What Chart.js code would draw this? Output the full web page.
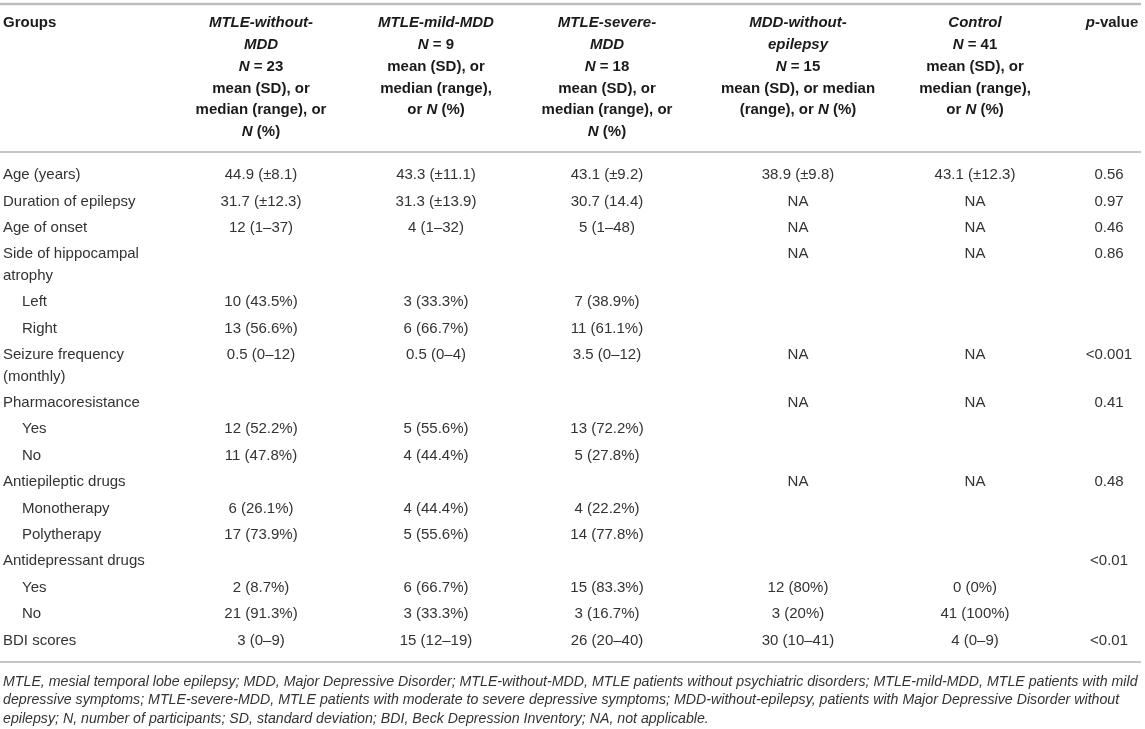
<!DOCTYPE html>
<html>
<head>
<meta charset="utf-8">
<script src="https://cdn.jsdelivr.net/npm/chart.js@4.4.0/dist/chart.umd.min.js"></script>
<style>
  html, body { margin: 0; padding: 0; background: #fff; }
  #wrap { width: 1145px; height: 729px; position: relative; }
</style>
</head>
<body>
<div id="wrap"><canvas id="tableChart"></canvas></div>
<script>
// ---- table content ----
const groupTitle = [
  ['MTLE-without-', 'MDD'],
  ['MTLE-mild-MDD'],
  ['MTLE-severe-', 'MDD'],
  ['MDD-without-', 'epilepsy'],
  ['Control']
];
const groupN = [23, 9, 18, 15, 41];
const statNote = [
  ['mean (SD), or', 'median (range), or', '*N* (%)'],
  ['mean (SD), or', 'median (range),', 'or *N* (%)'],
  ['mean (SD), or', 'median (range), or', '*N* (%)'],
  ['mean (SD), or median', '(range), or *N* (%)'],
  ['mean (SD), or', 'median (range),', 'or *N* (%)']
];

const rowLabels = [
  'Age (years)', 'Duration of epilepsy', 'Age of onset', 'Side of hippocampal\natrophy',
  'Left', 'Right', 'Seizure frequency\n(monthly)', 'Pharmacoresistance', 'Yes', 'No',
  'Antiepileptic drugs', 'Monotherapy', 'Polytherapy', 'Antidepressant drugs', 'Yes', 'No',
  'BDI scores'
];
const rowIndent = [0, 0, 0, 0, 1, 1, 0, 0, 1, 1, 0, 1, 1, 0, 1, 1, 0];

const withoutMDD = ['44.9 (±8.1)', '31.7 (±12.3)', '12 (1–37)', '', '10 (43.5%)', '13 (56.6%)', '0.5 (0–12)', '',
  '12 (52.2%)', '11 (47.8%)', '', '6 (26.1%)', '17 (73.9%)', '', '2 (8.7%)', '21 (91.3%)', '3 (0–9)'];
const mildMDD = ['43.3 (±11.1)', '31.3 (±13.9)', '4 (1–32)', '', '3 (33.3%)', '6 (66.7%)', '0.5 (0–4)', '',
  '5 (55.6%)', '4 (44.4%)', '', '4 (44.4%)', '5 (55.6%)', '', '6 (66.7%)', '3 (33.3%)', '15 (12–19)'];
const severeMDD = ['43.1 (±9.2)', '30.7 (14.4)', '5 (1–48)', '', '7 (38.9%)', '11 (61.1%)', '3.5 (0–12)', '',
  '13 (72.2%)', '5 (27.8%)', '', '4 (22.2%)', '14 (77.8%)', '', '15 (83.3%)', '3 (16.7%)', '26 (20–40)'];
const mddNoEpilepsy = ['38.9 (±9.8)', 'NA', 'NA', 'NA', '', '', 'NA', 'NA',
  '', '', 'NA', '', '', '', '12 (80%)', '3 (20%)', '30 (10–41)'];
const control = ['43.1 (±12.3)', 'NA', 'NA', 'NA', '', '', 'NA', 'NA',
  '', '', 'NA', '', '', '', '0 (0%)', '41 (100%)', '4 (0–9)'];
const pValues = ['0.56', '0.97', '0.46', '0.86', '', '', '<0.001', '0.41',
  '', '', '0.48', '', '', '<0.01', '', '', '<0.01'];

const footnote = [
  'MTLE, mesial temporal lobe epilepsy; MDD, Major Depressive Disorder; MTLE-without-MDD, MTLE patients without psychiatric disorders; MTLE-mild-MDD, MTLE patients with mild',
  'depressive symptoms; MTLE-severe-MDD, MTLE patients with moderate to severe depressive symptoms; MDD-without-epilepsy, patients with Major Depressive Disorder without',
  'epilepsy; N, number of participants; SD, standard deviation; BDI, Beck Depression Inventory; NA, not applicable.'
];

// ---- layout ----
const FONT = '"Liberation Sans", Arial, Helvetica, sans-serif';
const colX = [3, 261, 436, 607, 798, 975, 1109];
const INDENT = 19;
const HEAD_TOP = 23, HEAD_PITCH = 21.8, HEAD_RULE = 152, TOP_RULE = 4;
const BODY_TOP = 175, ROW_PITCH = 26.4, LINE_PITCH = 21.5;
const BOTTOM_RULE = 662, NOTE_TOP = 682, NOTE_PITCH = 18.3, NOTE_WIDTH = 1135;
const TABLE_RIGHT = 1141;

const rowY = [];
let yy = BODY_TOP;
rowLabels.forEach(label => {
  rowY.push(yy);
  yy += ROW_PITCH + (label.split('\n').length - 1) * LINE_PITCH;
});

const columns = [withoutMDD, mildMDD, severeMDD, mddNoEpilepsy, control, pValues];

const headerCells = [{ x: colX[0], y: HEAD_TOP, lines: ['Groups'], align: 'left' }];
groupTitle.forEach((t, i) => {
  const lines = t.map(s => '*' + s + '*').concat(['*N* = ' + groupN[i]], statNote[i]);
  headerCells.push({ x: colX[i + 1], y: HEAD_TOP, lines: lines, align: 'center' });
});
headerCells.push({ x: colX[6] + 3, y: HEAD_TOP, lines: ['*p*-value'], align: 'center' });

const bodyCells = [];
rowLabels.forEach((label, r) => {
  bodyCells.push({ x: colX[0] + (rowIndent[r] ? INDENT : 0), y: rowY[r], lines: label.split('\n'), align: 'left' });
  columns.forEach((col, c) => {
    if (col[r]) bodyCells.push({ x: colX[c + 1], y: rowY[r], lines: [col[r]], align: 'center' });
  });
});

// draw a line made of *italic* and plain parts
function drawRich(ctx, text, x, y, align, weight, size) {
  const parts = text.split('*').map((s, i) => ({ s: s, it: i % 2 === 1 })).filter(p => p.s);
  const fontOf = p => (p.it ? 'italic ' : '') + weight + ' ' + size + 'px ' + FONT;
  let total = 0;
  parts.forEach(p => { ctx.font = fontOf(p); p.w = ctx.measureText(p.s).width; total += p.w; });
  let cx = align === 'center' ? x - total / 2 : x;
  parts.forEach(p => {
    ctx.font = fontOf(p);
    ctx.fillText(p.s, cx, y);
    cx += p.w;
  });
}

const tablePlugin = {
  id: 'tableText',
  afterDatasetsDraw(chart) {
    const ctx = chart.ctx;
    const xs = chart.scales.x, ys = chart.scales.y;
    ctx.save();
    ctx.textBaseline = 'middle';
    ctx.textAlign = 'left';

    // rules
    const rule = (v, w, color) => {
      ctx.beginPath();
      ctx.strokeStyle = color;
      ctx.lineWidth = w;
      ctx.moveTo(xs.getPixelForValue(0), ys.getPixelForValue(v));
      ctx.lineTo(xs.getPixelForValue(TABLE_RIGHT), ys.getPixelForValue(v));
      ctx.stroke();
    };
    rule(TOP_RULE, 2.5, '#bdbdbd');
    rule(HEAD_RULE, 1.5, '#b3b3b3');
    rule(BOTTOM_RULE, 1.5, '#b3b3b3');

    chart.data.datasets.forEach((ds, di) => {
      const meta = chart.getDatasetMeta(di);
      meta.data.forEach((el, i) => {
        const cell = ds.data[i];
        const pitch = ds.head ? HEAD_PITCH : LINE_PITCH;
        ctx.fillStyle = ds.color;
        cell.lines.forEach((line, k) => {
          const py = el.y + (ys.getPixelForValue(cell.y + k * pitch) - ys.getPixelForValue(cell.y));
          drawRich(ctx, line, el.x, py, cell.align, ds.weight, ds.size);
        });
      });
    });

    // footnote, sized so the first line spans the table width
    ctx.font = 'italic 13px ' + FONT;
    const size = 13 * NOTE_WIDTH / ctx.measureText(footnote[0]).width;
    ctx.font = 'italic ' + size.toFixed(2) + 'px ' + FONT;
    ctx.fillStyle = '#333';
    footnote.forEach((line, k) => {
      ctx.fillText(line, xs.getPixelForValue(3), ys.getPixelForValue(NOTE_TOP + k * NOTE_PITCH));
    });
    ctx.restore();
  }
};

new Chart(document.getElementById('tableChart'), {
  type: 'scatter',
  data: {
    datasets: [
      { label: 'header', data: headerCells, head: true, weight: 'bold', size: 15, color: '#1a1a1a', pointRadius: 0 },
      { label: 'body', data: bodyCells, head: false, weight: 'normal', size: 15, color: '#333', pointRadius: 0 }
    ]
  },
  options: {
    responsive: true,
    maintainAspectRatio: false,
    animation: false,
    events: [],
    layout: { padding: 0 },
    plugins: { legend: { display: false }, tooltip: { enabled: false } },
    scales: {
      x: { type: 'linear', min: 0, max: 1145, display: false },
      y: { type: 'linear', min: 0, max: 729, reverse: true, display: false }
    }
  },
  plugins: [tablePlugin]
});
</script>
</body>
</html>
